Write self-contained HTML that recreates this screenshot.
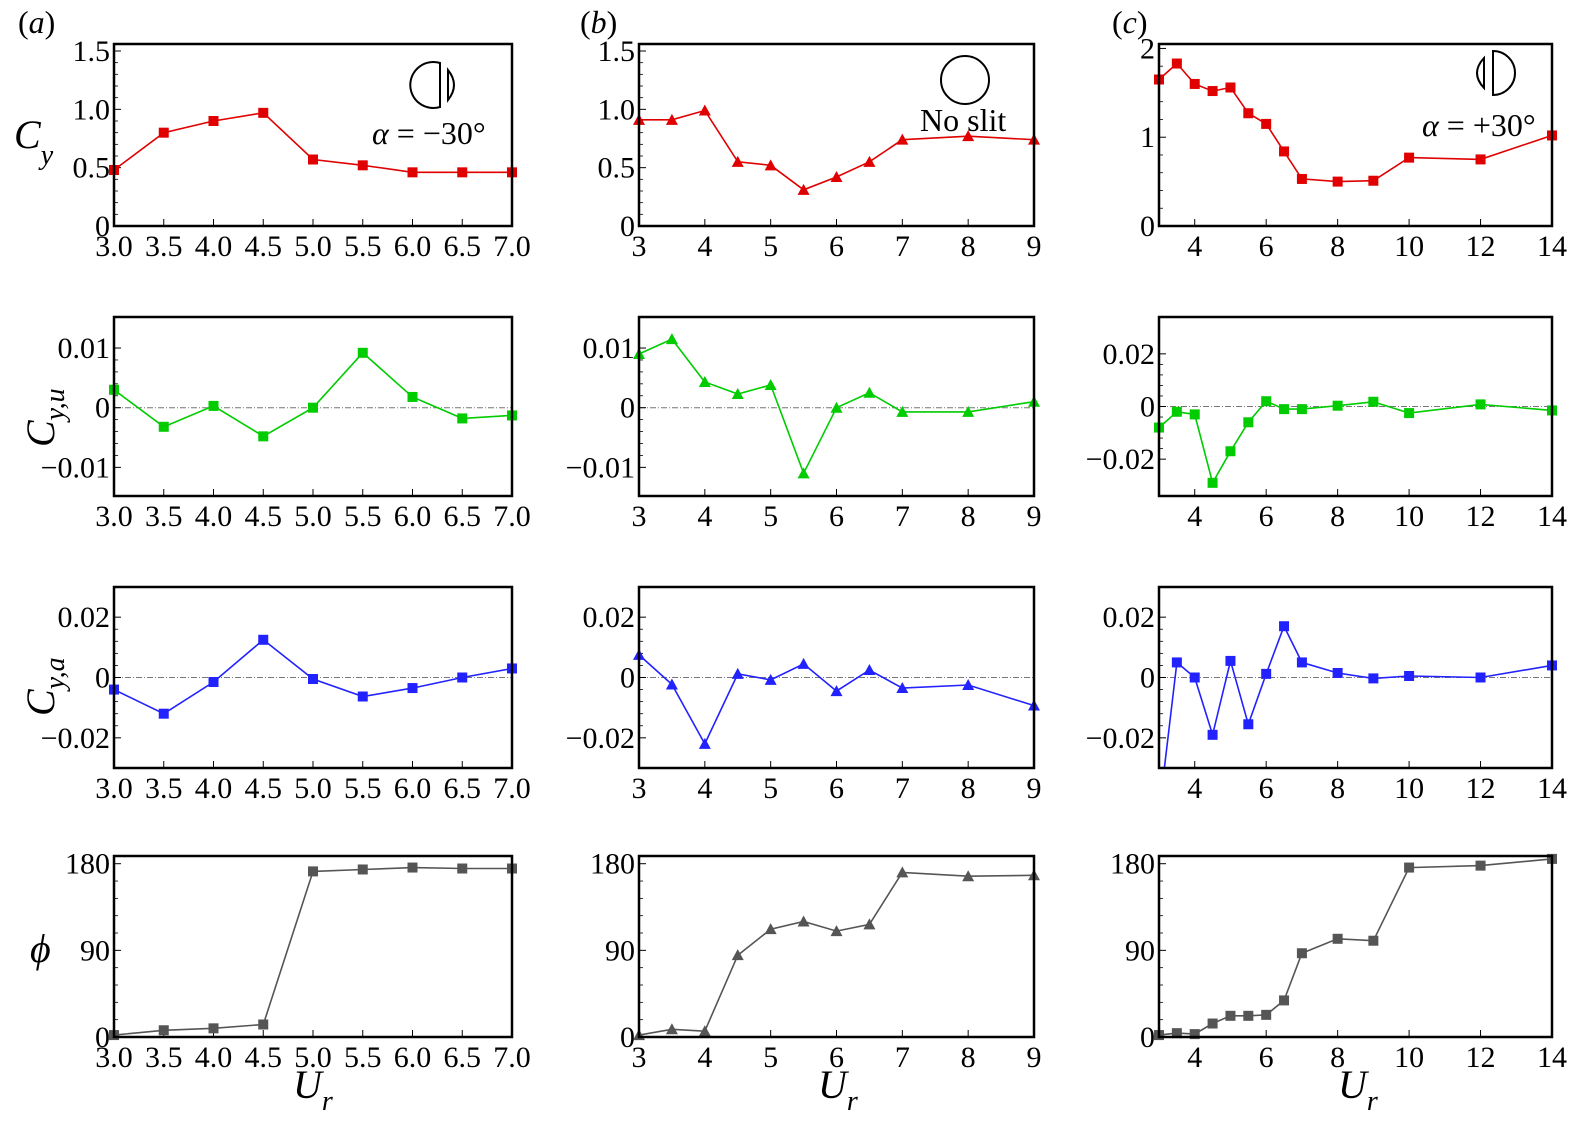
<!DOCTYPE html>
<html><head><meta charset="utf-8"><style>
html,body{margin:0;padding:0;background:#fff}
svg{display:block}
svg text{font-family:"Liberation Serif","Times New Roman",serif}
</style></head><body>
<svg id="fig" width="1577" height="1135" viewBox="0 0 1577 1135" font-family="Liberation Serif, serif" xmlns="http://www.w3.org/2000/svg"></svg>
<script>
// ---- data ----
const xA = [3,3.5,4,4.5,5,5.5,6,6.5,7];
const xB = [3,3.5,4,4.5,5,5.5,6,6.5,7,8,9];
const xC = [3,3.5,4,4.5,5,5.5,6,6.5,7,8,9,10,12,14];
const cyA = [0.48,0.80,0.90,0.97,0.57,0.52,0.46,0.46,0.46];
const cyuA = [0.003,-0.0032,0.0003,-0.0048,0,0.0092,0.0018,-0.0018,-0.0013];
const cyaA = [-0.004,-0.012,-0.0015,0.0125,-0.0005,-0.0063,-0.0035,0,0.003];
const phiA = [2,7,9,13,172,174,176,175,175];
const cyB = [0.91,0.91,0.99,0.55,0.52,0.31,0.42,0.55,0.74,0.77,0.74];
const cyuB = [0.009,0.0115,0.0043,0.0023,0.0038,-0.011,0,0.0025,-0.0007,-0.0007,0.0010];
const cyaB = [0.0075,-0.0023,-0.022,0.0012,-0.0008,0.0045,-0.0045,0.0025,-0.0035,-0.0025,-0.0093];
const phiB = [2,8,6,85,112,120,110,117,171,167,168];
const cyC = [1.65,1.83,1.6,1.52,1.56,1.27,1.15,0.84,0.53,0.5,0.51,0.77,0.75,1.02];
const cyuC = [-0.008,-0.002,-0.003,-0.029,-0.017,-0.006,0.002,-0.001,-0.001,0.0003,0.0018,-0.0025,0.0008,-0.0015];
const cyaC = [-0.045,0.005,0,-0.019,0.0055,-0.0155,0.0012,0.017,0.005,0.0015,-0.0003,0.0005,0,0.004];
const phiC = [2,4,3,14,22,22,23,38,87,102,100,176,178,185];
const xTicksA = [3,3.5,4,4.5,5,5.5,6,6.5,7];
const xTickLabelsA = ["3.0","3.5","4.0","4.5","5.0","5.5","6.0","6.5","7.0"];
const xTicksB = [3,4,5,6,7,8,9];
const xTicksC = [4,6,8,10,12,14];
const yT1 = [0,0.5,1,1.5], yL1 = ["0","0.5","1.0","1.5"];
const yT1c = [0,1,2], yL1c = ["0","1","2"];
const yT2 = [-0.01,0,0.01], yL2 = ["\u22120.01","0","0.01"];
const yT2c = [-0.02,0,0.02], yL2c = ["\u22120.02","0","0.02"];
const yT3 = [-0.02,0,0.02], yL3 = ["\u22120.02","0","0.02"];
const yT4 = [0,90,180], yL4 = ["0","90","180"];

const NS="http://www.w3.org/2000/svg";
const svg=document.getElementById('fig');
const FF='Liberation Serif, serif';
function mk(tag,attrs,parent){const e=document.createElementNS(NS,tag);for(const k in attrs)e.setAttribute(k,attrs[k]);(parent||svg).appendChild(e);return e;}

const cols=[{l:114,r:512,x0:3,x1:7,xs:xA,xt:xTicksA,xtl:xTickLabelsA,mk:'sq',k:'a'},
            {l:639,r:1034,x0:3,x1:9,xs:xB,xt:xTicksB,xtl:xTicksB.map(String),mk:'tri',k:'b'},
            {l:1159,r:1552,x0:3,x1:14,xs:xC,xt:xTicksC,xtl:xTicksC.map(String),mk:'sq',k:'c'}];
const rows=[{t:44,b:226,color:'#e00000',name:'cy'},{t:317,b:496,color:'#00cc00',name:'cyu'},
            {t:587,b:768,color:'#2222ff',name:'cya'},{t:856,b:1037,color:'#555555',name:'phi'}];
const series=[[cyA,cyB,cyC],[cyuA,cyuB,cyuC],[cyaA,cyaB,cyaC],[phiA,phiB,phiC]];
const ydom=[[[0,1.56],[0,1.56],[0,2.05]],[[-0.0148,0.0152],[-0.0148,0.0152],[-0.034,0.034]],
            [[-0.03,0.03],[-0.03,0.03],[-0.03,0.03]],[[0,188],[0,188],[0,188]]];
const yticks=[[[yT1,yL1],[yT1,yL1],[yT1c,yL1c]],[[yT2,yL2],[yT2,yL2],[yT2c,yL2c]],
              [[yT3,yL3],[yT3,yL3],[yT3,yL3]],[[yT4,yL4],[yT4,yL4],[yT4,yL4]]];

rows.forEach((R,ri)=>{cols.forEach((C,ci)=>{
  const g=mk('g',{});
  
  
  const [d0,d1]=ydom[ri][ci];
  const X=v=>C.l+(v-C.x0)/(C.x1-C.x0)*(C.r-C.l);
  const Y=v=>R.b-(v-d0)/(d1-d0)*(R.b-R.t);
  const cp='clip'+ri+ci;
  const cl=mk('clipPath',{id:cp},g);mk('rect',{x:C.l,y:R.t,width:C.r-C.l,height:R.b-R.t},cl);
  if(ri>0&&ri<3){const z=mk('line',{x1:C.l,x2:C.r,y1:Y(0),y2:Y(0),stroke:'#777','stroke-width':1,'stroke-dasharray':'6 2 1 2'},g);
    }
  const [yt,yl]=yticks[ri][ci];
  yt.forEach((v,i)=>{mk('line',{x1:C.l,x2:C.l+7,y1:Y(v),y2:Y(v),stroke:'#000','stroke-width':1},g);
    const t=mk('text',{x:C.l-4,y:Y(v)+10,'font-size':30,'font-family':FF,'text-anchor':'end'},g);t.textContent=yl[i];
    });
  for(let k=0;k<yt.length-1;k++){for(let m=1;m<5;m++){const v=yt[k]+(yt[k+1]-yt[k])*m/5;mk('line',{x1:C.l,x2:C.l+4,y1:Y(v),y2:Y(v),stroke:'#000','stroke-width':0.8},g);}}
  C.xt.forEach((v,i)=>{mk('line',{x1:X(v),x2:X(v),y1:R.b,y2:R.b-7,stroke:'#000','stroke-width':1},g);
    const t=mk('text',{x:X(v),y:R.b+30,'font-size':30,'font-family':FF,'text-anchor':'middle'},g);t.textContent=C.xtl[i];
    });
  const ys=series[ri][ci];
  const pts=C.xs.map((x,i)=>X(x).toFixed(1)+','+Y(ys[i]).toFixed(1)).join(' ');
  const pl=mk('polyline',{points:pts,fill:'none',stroke:R.color,'stroke-width':1.6,'clip-path':'url(#'+cp+')'},g);
  
  C.xs.forEach((x,i)=>{const px=X(x),py=Y(ys[i]);if(py>R.b+2||py<R.t-2)return;let m;
    if(C.mk==='sq')m=mk('rect',{x:px-5,y:py-5,width:10,height:10,fill:R.color},g);
    else m=mk('polygon',{points:`${px},${py-6} ${px-6},${py+5} ${px+6},${py+5}`,fill:R.color},g);
    });
  const fr=mk('rect',{x:C.l,y:R.t,width:C.r-C.l,height:R.b-R.t,fill:'none',stroke:'#000','stroke-width':2.5},g);
  
});});

function txt(x,y,s,size,attrs,name){const t=mk('text',Object.assign({x:x,y:y,'font-size':size,'font-family':FF},attrs||{}));t.innerHTML=s;
  return t;}
txt(18,33,'(<tspan font-style="italic">a</tspan>)',32,{},'panel-label-a');
txt(580,33,'(<tspan font-style="italic">b</tspan>)',32,{},'panel-label-b');
txt(1112,33,'(<tspan font-style="italic">c</tspan>)',32,{},'panel-label-c');
txt(14,148,'<tspan font-style="italic">C</tspan><tspan font-style="italic" font-size="28" dy="16">y</tspan>',40,{},'y-axis-title-cy');
[[407,'u'],[676,'a']].forEach(([cy,s],i)=>{txt(0,0,'<tspan font-style="italic">C</tspan><tspan font-style="italic" font-size="28" dy="10">y,'+s+'</tspan>',40,{transform:`translate(54,${cy+40}) rotate(-90)`},i?'y-axis-title-cya':'y-axis-title-cyu');});
txt(30,962,'<tspan font-style="italic">ϕ</tspan>',40,{},'y-axis-title-phi');
[[313,'a'],[838,'b'],[1358,'c']].forEach(([x,k])=>txt(x-20,1098,'<tspan font-style="italic">U</tspan><tspan font-style="italic" font-size="28" dy="12">r</tspan>',40,{},'x-axis-title-'+k));
txt(372,144,'<tspan font-style="italic">α</tspan> = −30°',32,{},'alpha-annotation-a');
txt(920,131,'No slit',32,{},'no-slit-annotation');
txt(1422,136,'<tspan font-style="italic">α</tspan> = +30°',32,{},'alpha-annotation-c');
const ia=mk('g',{fill:'none',stroke:'#000','stroke-width':2});
mk('path',{d:'M440,63 A23,23 0 1 0 440,107 Z'},ia);mk('path',{d:'M448,70 Q460,85 448,100 Z'},ia);
const ib=mk('circle',{cx:965,cy:80,r:24,fill:'none',stroke:'#000','stroke-width':2});
const ic=mk('g',{fill:'none',stroke:'#000','stroke-width':2});
mk('path',{d:'M1493,51 A22,22 0 1 1 1493,95 Z'},ic);mk('path',{d:'M1484,58 Q1470,73 1484,88 Z'},ic);
</script>
</body></html>
